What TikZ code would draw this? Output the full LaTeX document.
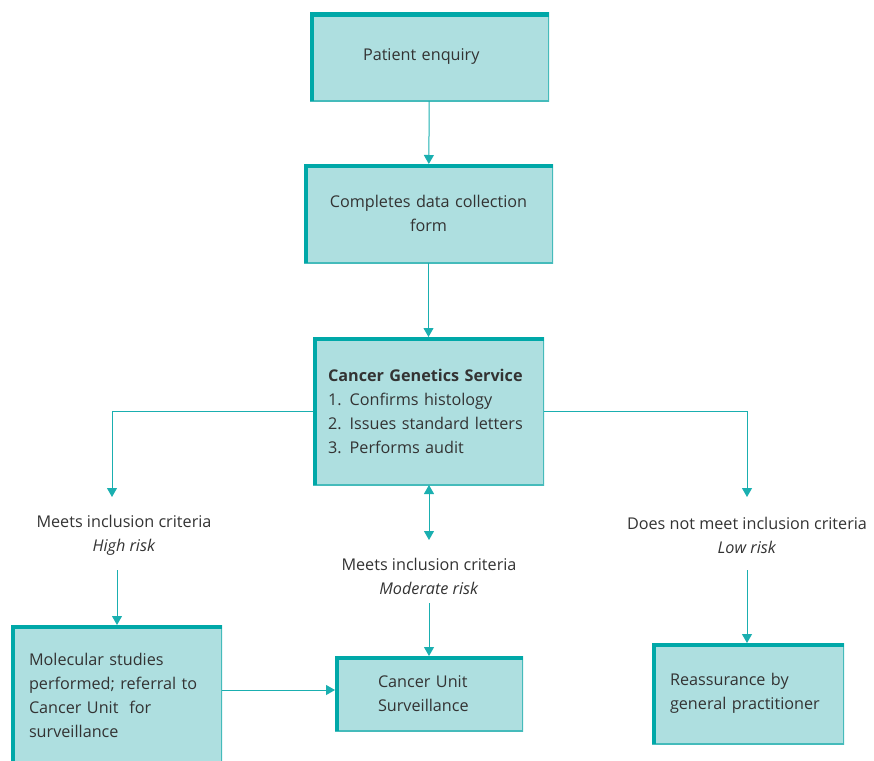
\documentclass[tikz,border=0pt]{standalone}
\usepackage{fontspec}
\setmainfont{Open Sans}
\usetikzlibrary{arrows.meta}
\definecolor{boxfill}{HTML}{AEDFE0}
\definecolor{edgedark}{HTML}{00A8A8}
\definecolor{edgelight}{HTML}{45BBBB}
\definecolor{linec}{HTML}{1AAFB0}
\definecolor{txt}{HTML}{333333}
\tikzset{
  box/.style={fill=boxfill, inner sep=0pt, outer sep=0pt, text=txt,
    font=\fontsize{16.2}{24}\selectfont,
    path picture={
      \draw[edgelight, line width=3pt]
        (path picture bounding box.south west) rectangle (path picture bounding box.north east);
      \draw[edgedark, line width=8pt, line join=miter]
        (path picture bounding box.south west) -- (path picture bounding box.north west)
        -- (path picture bounding box.north east);}},
  lab/.style={align=center, text=txt, inner sep=0pt, font=\fontsize{16.2}{24}\selectfont},
  arr/.style={draw=linec, line width=1pt, -{Triangle[length=9pt,width=10pt]}},
  arrb/.style={draw=linec, line width=1pt, {Triangle[length=9pt,width=10pt]}-{Triangle[length=9pt,width=10pt]}},
}
\begin{document}
\begin{tikzpicture}[x=1pt,y=-1pt]
\useasboundingbox (0,0) rectangle (874,760);
% boxes
\node[box, minimum width=239pt, minimum height=88pt, text width=133pt, align=left] (b1) at (429.5,57) {Patient enquiry};
\node[box, minimum width=249pt, minimum height=99pt, text width=220pt, align=center] (b2) at (428.5,213.5) {Completes data collection\\form};
\node[box, minimum width=231pt, minimum height=148pt, text width=201pt, align=left] (b3) at (428.5,411) {\textbf{Cancer Genetics Service}\\1. Confirms histology\\2. Issues standard letters\\3. Performs audit};
\node[box, minimum width=211pt, minimum height=140pt, text width=175pt, align=left] (b4) at (116.5,695) {Molecular studies\\performed; referral to\\Cancer Unit\ \ for\\surveillance};
\node[box, minimum width=188pt, minimum height=75pt, text width=102pt, align=left] (b5) at (429,693.5) {Cancer Unit\\Surveillance};
\node[box, minimum width=192pt, minimum height=101pt, text width=156pt, align=left] (b6) at (748,693.5) {Reassurance by\\general practitioner};
% labels
\node[lab] (lh) at (124,535) {Meets inclusion criteria\\\textit{High risk}};
\node[lab] (lm) at (429,576) {Meets inclusion criteria\\\textit{Moderate risk}};
\node[lab] (ll) at (747,535) {Does not meet inclusion criteria\\\textit{Low risk}};
% coordinates
\coordinate (th) at (112,497);
\coordinate (tr) at (747,497);
\coordinate (tm) at (429,540);
\coordinate (hs) at (117,570);
\coordinate (ms) at (429,603);
\coordinate (rs) at (747,570);
\coordinate (bm) at (222,690);
% connectors
\draw[arr] (b1) -- (b2);
\draw[arr] (b2) -- (b3);
\draw[arr] (b3.west) -| (th);
\draw[arr] (b3.east) -| (tr);
\draw[arrb] (b3.south -| tm) -- (tm);
\draw[arr] (hs) -- (hs |- b4.north);
\draw[arr] (ms) -- (ms |- b5.north);
\draw[arr] (rs) -- (rs |- b6.north);
\draw[arr] (bm) -- (bm -| b5.west);
\end{tikzpicture}
\end{document}
